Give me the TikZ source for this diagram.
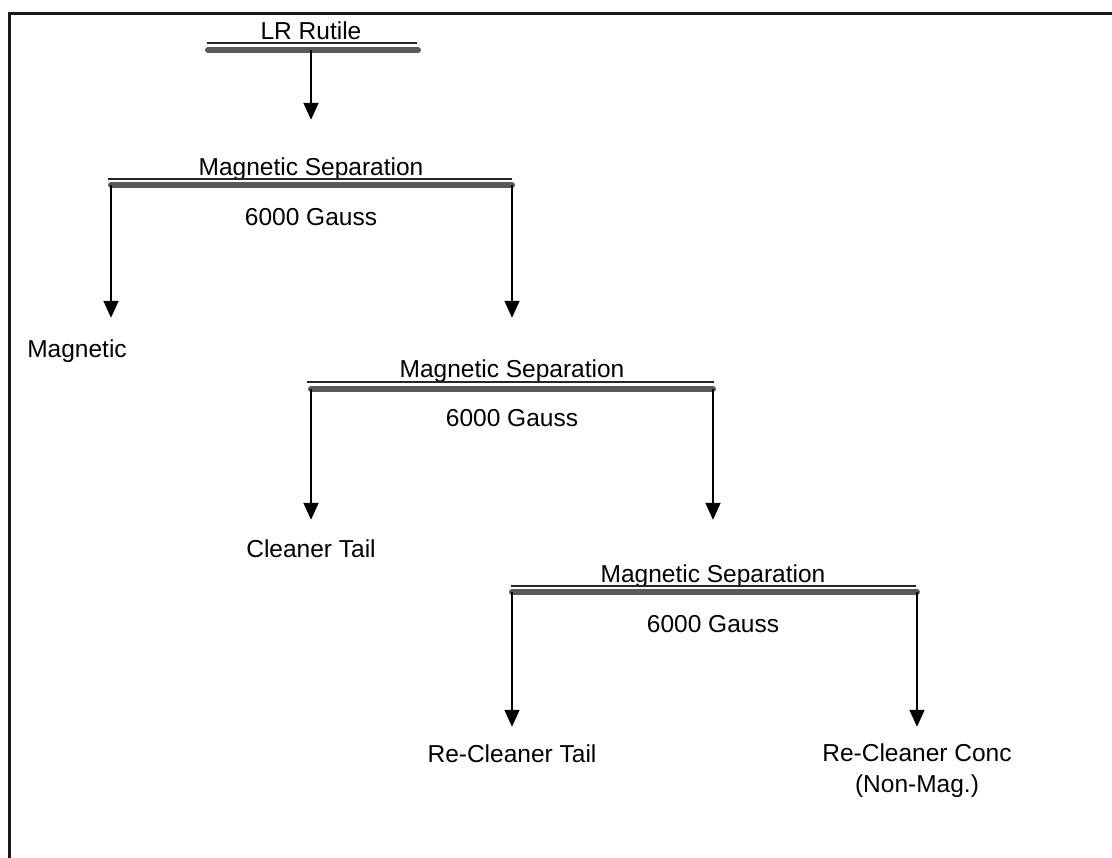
\documentclass[tikz,border=0pt]{standalone}
\usepackage{fontspec}
\setmainfont{Liberation Sans}
\usetikzlibrary{arrows.meta}
\begin{document}
\begin{tikzpicture}[x=1pt,y=-1pt,
  lbl/.style={inner sep=0pt,anchor=base,text height=18pt,text depth=5pt,font=\fontsize{24.5}{29}\selectfont},
  thinline/.style={line width=1.3pt,black!85},
  thickbar/.style={line width=6pt,line cap=round,black!65},
  arr/.style={line width=1.7pt,-{Triangle[width=15pt,length=17pt]}},
  frameline/.style={line width=3pt,black!90}]
\useasboundingbox (0,0) rectangle (1112,858);
% frame (cut off at right and bottom)
\coordinate (fTL) at (9,14);
\coordinate (fTR) at (1112,14);
\coordinate (fBL) at (9,858);
\draw[frameline] (fTR) -- (fTL) -- (fBL);

% LR Rutile
\node[lbl] (lr) at (311,40) {LR Rutile};
\coordinate (lrA) at (207,43); \coordinate (lrB) at (417,43);
\coordinate (lrC) at (208,50); \coordinate (lrD) at (418,50);
\coordinate (lrM) at (311,50);
\draw[thinline] (lrA) -- (lrB);
\draw[thickbar] (lrC) -- (lrD);

% Stage 1
\node[lbl] (ms1) at (311,176) {Magnetic Separation};
\coordinate (s1A) at (108,179); \coordinate (s1B) at (512,179);
\coordinate (s1L) at (111,185); \coordinate (s1R) at (512,185);
\draw[thinline] (s1A) -- (s1B);
\draw[thickbar] (s1L) -- (s1R);
\node[lbl] (g1) at (311,226) {6000 Gauss};
\draw[arr,shorten >=38pt] (lrM) -- (lrM |- ms1.north);

\node[lbl] (mag) at (77,358) {Magnetic};

% Stage 2
\node[lbl] (ms2) at (512,378) {Magnetic Separation};
\coordinate (s2A) at (307,382); \coordinate (s2B) at (714,382);
\coordinate (s2L) at (311,389); \coordinate (s2R) at (713,389);
\draw[thinline] (s2A) -- (s2B);
\draw[thickbar] (s2L) -- (s2R);
\node[lbl] (g2) at (512,427) {6000 Gauss};

\draw[arr,shorten >=22pt] (s1L) -- (s1L |- mag.north);
\draw[arr,shorten >=42pt] (s1R) -- (s1R |- ms2.north);

\node[lbl] (ct) at (311,558) {Cleaner Tail};

% Stage 3
\node[lbl] (ms3) at (713,582) {Magnetic Separation};
\coordinate (s3A) at (511,586); \coordinate (s3B) at (916,586);
\coordinate (s3L) at (512,592); \coordinate (s3R) at (917,592);
\draw[thinline] (s3A) -- (s3B);
\draw[thickbar] (s3L) -- (s3R);
\node[lbl] (g3) at (713,632) {6000 Gauss};

\draw[arr,shorten >=20pt] (s2L) -- (s2L |- ct.north);
\draw[arr,shorten >=44pt] (s2R) -- (s2R |- ms3.north);

\node[lbl] (rct) at (512,762) {Re-Cleaner Tail};
\node[lbl] (rcc) at (917,761) {Re-Cleaner Conc};
\node[lbl] (nm) at (917,792) {(Non-Mag.)};

\draw[arr,shorten >=17pt] (s3L) -- (s3L |- rct.north);
\draw[arr,shorten >=16pt] (s3R) -- (s3R |- rcc.north);
\end{tikzpicture}
\end{document}
